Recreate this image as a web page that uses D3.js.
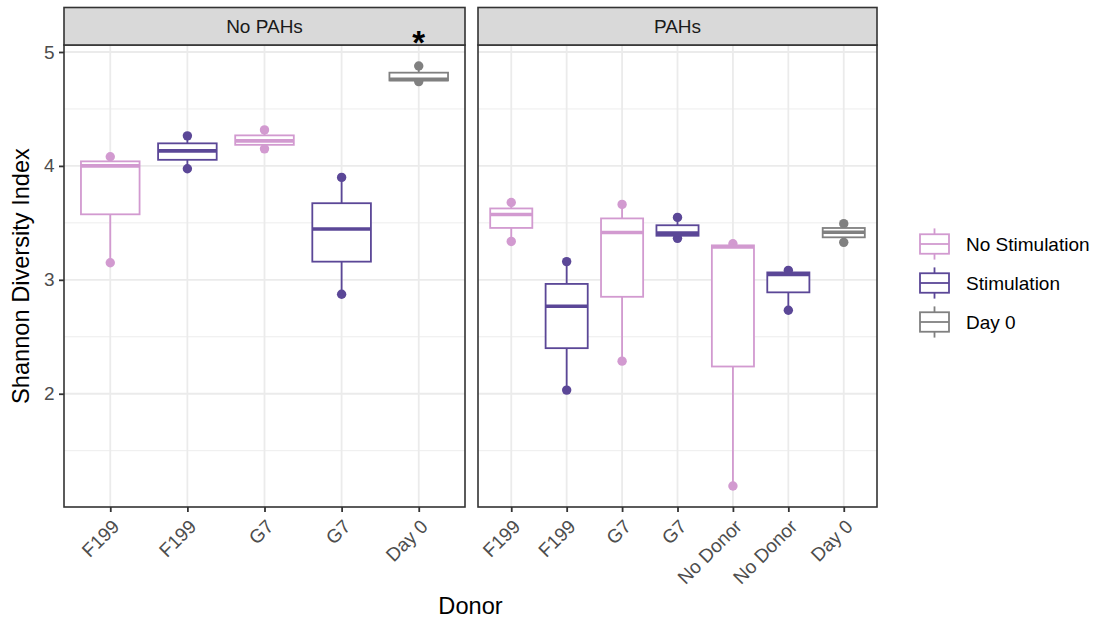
<!DOCTYPE html>
<html>
<head>
<meta charset="utf-8">
<script src="https://cdn.jsdelivr.net/npm/d3@7"></script>
<style>
  body { margin: 0; background: #fff; }
  svg { display: block; font-family: "Liberation Sans", Arial, Helvetica, sans-serif; }
</style>
</head>
<body>
<svg id="chart" width="1099" height="620"></svg>
<script>
// Shannon diversity per donor (three replicates per group), faceted by PAH exposure
const panelNames = ["No PAHs", "PAHs"];

const noPahDonors = ["F199", "F199", "G7", "G7", "Day 0"];
const noPahTreatments = ["No Stimulation", "Stimulation", "No Stimulation", "Stimulation", "Day 0"];
const noPahValues = [
  [3.15, 4.00, 4.08],
  [3.975, 4.132, 4.264],
  [4.15, 4.22, 4.316],
  [2.873, 3.446, 3.899],
  [4.74, 4.76, 4.877]
];

const pahDonors = ["F199", "F199", "G7", "G7", "No Donor", "No Donor", "Day 0"];
const pahTreatments = ["No Stimulation", "Stimulation", "No Stimulation", "Stimulation", "No Stimulation", "Stimulation", "Day 0"];
const pahValues = [
  [3.337, 3.574, 3.679],
  [2.032, 2.768, 3.16],
  [2.286, 3.416, 3.662],
  [3.364, 3.41, 3.548],
  [1.19, 3.288, 3.317],
  [2.733, 3.047, 3.083],
  [3.329, 3.417, 3.493]
];

const treatments = ["No Stimulation", "Stimulation", "Day 0"];
const treatmentColors = ["#d29ad0", "#5b4797", "#808080"];

const yTicks = [2, 3, 4, 5];
const yMinorTicks = [1.5, 2.5, 3.5, 4.5];

// significance marker above the Day 0 group in the first panel
const sigPanel = 0;
const sigIndex = 4;
const sigLabel = "*";
const sigY = 5.13;

// ---------------------------------------------------------------
const svg = d3.select("#chart");
svg.append("rect").attr("width", 1099).attr("height", 620).attr("fill", "#fff");

const plotTop = 45, plotBottom = 507, stripTop = 7.5;
const panelX = [[64, 465], [478, 877]];
const panelData = [
  { donors: noPahDonors, treat: noPahTreatments, values: noPahValues },
  { donors: pahDonors, treat: pahTreatments, values: pahValues }
];

const allValues = [...noPahValues.flat(), ...pahValues.flat()];
const [vMin, vMax] = d3.extent(allValues);
const pad = (vMax - vMin) * 0.05;
const y = d3.scaleLinear().domain([vMin - pad, vMax + pad]).range([plotBottom, plotTop]);
const color = d3.scaleOrdinal().domain(treatments).range(treatmentColors);

const gridCol = "#ebebeb", borderCol = "#333333", tickTextCol = "#4d4d4d";
const fs = 19;
const titleFs = 23.6;
const lw = 1.8;

panelData.forEach((pd, pi) => {
  const [x0, x1] = panelX[pi];
  const n = pd.donors.length;
  const x = d3.scalePoint().domain(d3.range(n)).range([x0, x1]).padding(0.6);
  const boxW = x.step() * 0.76;
  const g = svg.append("g");

  // grid
  g.selectAll(".minor").data(yMinorTicks).join("line")
    .attr("x1", x0).attr("x2", x1).attr("y1", d => y(d)).attr("y2", d => y(d))
    .attr("stroke", gridCol).attr("stroke-width", 0.9);
  g.selectAll(".major").data(yTicks).join("line")
    .attr("x1", x0).attr("x2", x1).attr("y1", d => y(d)).attr("y2", d => y(d))
    .attr("stroke", gridCol).attr("stroke-width", lw);
  g.selectAll(".vgrid").data(d3.range(n)).join("line")
    .attr("x1", d => x(d)).attr("x2", d => x(d)).attr("y1", plotTop).attr("y2", plotBottom)
    .attr("stroke", gridCol).attr("stroke-width", lw);

  // raw points (partly covered by the boxes drawn afterwards)
  pd.values.forEach((vals, i) => {
    g.selectAll(null).data(vals).join("circle")
      .attr("cx", x(i)).attr("cy", d => y(d)).attr("r", 4.7)
      .attr("fill", color(pd.treat[i]));
  });

  // boxplots
  pd.values.forEach((vals, i) => {
    const s = vals.slice().sort(d3.ascending);
    const q1 = d3.quantile(s, 0.25), med = d3.quantile(s, 0.5), q3 = d3.quantile(s, 0.75);
    const iqr = q3 - q1;
    const lo = d3.min(s.filter(v => v >= q1 - 1.5 * iqr));
    const hi = d3.max(s.filter(v => v <= q3 + 1.5 * iqr));
    const c = color(pd.treat[i]);
    const cx = x(i);
    const bg = g.append("g").attr("stroke", c).attr("stroke-width", lw);
    bg.append("line").attr("x1", cx).attr("x2", cx).attr("y1", y(hi)).attr("y2", y(q3));
    bg.append("line").attr("x1", cx).attr("x2", cx).attr("y1", y(q1)).attr("y2", y(lo));
    bg.append("rect").attr("x", cx - boxW / 2).attr("width", boxW)
      .attr("y", y(q3)).attr("height", y(q1) - y(q3)).attr("fill", "#fff");
    bg.append("line").attr("x1", cx - boxW / 2).attr("x2", cx + boxW / 2)
      .attr("y1", y(med)).attr("y2", y(med)).attr("stroke-width", lw * 2);
  });

  // panel border
  g.append("rect").attr("x", x0).attr("y", plotTop).attr("width", x1 - x0).attr("height", plotBottom - plotTop)
    .attr("fill", "none").attr("stroke", borderCol).attr("stroke-width", 1.6);

  // strip
  g.append("rect").attr("x", x0).attr("y", stripTop).attr("width", x1 - x0).attr("height", plotTop - stripTop)
    .attr("fill", "#d9d9d9").attr("stroke", borderCol).attr("stroke-width", 1.6);
  g.append("text").attr("x", (x0 + x1) / 2).attr("y", (stripTop + plotTop) / 2 + 0.36 * fs)
    .attr("text-anchor", "middle").attr("font-size", fs).attr("fill", "#1a1a1a").text(panelNames[pi]);

  // x axis
  const xAxis = g.append("g").attr("transform", `translate(0,${plotBottom})`)
    .call(d3.axisBottom(x).tickSize(5).tickSizeOuter(0).tickFormat(i => pd.donors[i]));
  xAxis.select(".domain").remove();
  xAxis.selectAll(".tick line").attr("stroke", borderCol).attr("stroke-width", lw);
  xAxis.selectAll(".tick text")
    .attr("font-size", fs).attr("font-family", "Liberation Sans, Arial, sans-serif").attr("fill", tickTextCol)
    .attr("text-anchor", "end").attr("y", 0).attr("dy", "0.72em")
    .attr("transform", "translate(0,11) rotate(-45)");

  // y axis on first panel only
  if (pi === 0) {
    const yAxis = g.append("g").attr("transform", `translate(${x0},0)`)
      .call(d3.axisLeft(y).tickValues(yTicks).tickSize(5).tickSizeOuter(0).tickFormat(d3.format("d")));
    yAxis.select(".domain").remove();
    yAxis.selectAll(".tick line").attr("stroke", borderCol).attr("stroke-width", lw);
    yAxis.selectAll(".tick text").attr("font-size", fs).attr("font-family", "Liberation Sans, Arial, sans-serif")
      .attr("fill", tickTextCol).attr("x", -9.5);
  }

  if (pi === sigPanel) {
    g.append("text").attr("x", x(sigIndex)).attr("y", y(sigY) + 17)
      .attr("text-anchor", "middle").attr("font-size", 33).attr("font-weight", "bold")
      .attr("fill", "#000").text(sigLabel);
  }
});

// axis titles
svg.append("text").attr("transform", `translate(29,${(plotTop + plotBottom) / 2}) rotate(-90)`)
  .attr("text-anchor", "middle").attr("font-size", titleFs).attr("fill", "#000").text("Shannon Diversity Index");
svg.append("text").attr("x", (panelX[0][0] + panelX[1][1]) / 2).attr("y", 614)
  .attr("text-anchor", "middle").attr("font-size", titleFs).attr("fill", "#000").text("Donor");

// legend
const keyX = 934.5, keyW = 29, keyStep = 39, keyY0 = 244;
const legend = svg.append("g");
treatments.forEach((t, i) => {
  const cy = keyY0 + i * keyStep;
  const c = color(t);
  const k = legend.append("g").attr("stroke", c).attr("stroke-width", lw);
  k.append("line").attr("x1", keyX).attr("x2", keyX).attr("y1", cy - 15.6).attr("y2", cy + 15.6);
  k.append("rect").attr("x", keyX - keyW / 2).attr("width", keyW).attr("y", cy - 9.75).attr("height", 19.5).attr("fill", "#fff");
  k.append("line").attr("x1", keyX - keyW / 2).attr("x2", keyX + keyW / 2).attr("y1", cy).attr("y2", cy);
  legend.append("text").attr("x", 966).attr("y", cy + 0.36 * fs).attr("font-size", fs).attr("fill", "#000").text(t);
});
</script>
</body>
</html>
